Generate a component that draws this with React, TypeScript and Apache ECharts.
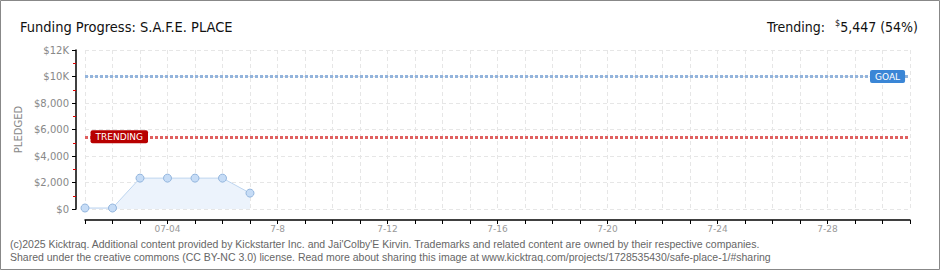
import React, { useEffect, useRef } from "react";
import * as echarts from "echarts";

const categories = [
  "07-01", "07-02", "07-03", "07-04", "7-5", "7-6", "7-7", "7-8", "7-9", "7-10",
  "7-11", "7-12", "7-13", "7-14", "7-15", "7-16", "7-17", "7-18", "7-19", "7-20",
  "7-21", "7-22", "7-23", "7-24", "7-25", "7-26", "7-27", "7-28", "7-29", "7-30", "7-31",
];
const pledged = [75, 75, 2330, 2330, 2330, 2330, 1200];
const goalValue = 10000;
const trendingValue = 5447;
const yTickLabels: Record<number, string> = {
  0: "$0", 2000: "$2,000", 4000: "$4,000", 6000: "$6,000", 8000: "$8,000", 10000: "$10K", 12000: "$12K",
};
const titleText = "Funding Progress: S.A.F.E. PLACE";
const trendingAmount = "5,447";
const trendingPct = "(54%)";
const footerLines = [
  "(c)2025 Kicktraq. Additional content provided by Kickstarter Inc. and Jai'Colby'E Kirvin. Trademarks and related content are owned by their respective companies.",
  "Shared under the creative commons (CC BY-NC 3.0) license. Read more about sharing this image at www.kicktraq.com/projects/1728535430/safe-place-1/#sharing",
];

export default function App() {
  const ref = useRef<HTMLDivElement>(null);
  useEffect(() => {
    if (!ref.current) return;
    const chart = echarts.init(ref.current, undefined, { renderer: "svg" });
    const font = "DejaVu Sans, Verdana, sans-serif";
    const tfont = "DejaVu Sans Condensed, Liberation Sans Narrow, Liberation Sans, sans-serif";
    chart.setOption({
      animation: false,
      backgroundColor: "#ffffff",
      title: [
        {
          text: titleText,
          left: 15,
          top: 14,
          textStyle: { fontSize: 14.5, fontWeight: "normal", color: "#111", fontFamily: tfont },
        },
        {
          text: "{a|Trending:}  {s|$}{b|" + trendingAmount + " " + trendingPct + "}",
          right: 17,
          top: 13,
          textStyle: {
            fontWeight: "normal",
            rich: {
              a: { fontSize: 14, fontWeight: "normal", color: "#111", fontFamily: tfont },
              s: { fontSize: 9, fontWeight: "normal", color: "#111", verticalAlign: "top", padding: [0, 0, 6, 0], fontFamily: tfont },
              b: { fontSize: 14, fontWeight: "normal", color: "#111", fontFamily: tfont },
            },
          },
        },
      ],
      grid: { left: 85, right: 30, top: 50, bottom: 61, containLabel: false },
      xAxis: {
        type: "category",
        data: categories,
        boundaryGap: false,
        offset: 11,
        axisLine: { show: true, onZero: false, lineStyle: { color: "#000", width: 1.5 } },
        axisTick: { show: true, interval: 0, length: 4, lineStyle: { color: "#000" } },
        axisLabel: {
          interval: (i: number) => i % 4 === 3,
          color: "#999",
          fontSize: 9,
          fontFamily: font,
          margin: 4,
        },
        splitLine: { show: true, interval: 0, lineStyle: { color: "#e6e6e6", type: [4, 3] } },
      },
      yAxis: {
        type: "value",
        min: 0,
        max: 12000,
        interval: 2000,
        offset: 9,
        name: "PLEDGED",
        nameLocation: "middle",
        nameRotate: 90,
        nameGap: 50,
        nameTextStyle: { color: "#888", fontSize: 10, fontFamily: font },
        axisLine: { show: true, onZero: false, lineStyle: { color: "#000", width: 1.5 } },
        axisTick: { show: true, length: 4, lineStyle: { color: "#000" } },
        minorTick: { show: true, splitNumber: 2, length: 3, lineStyle: { color: "#e00000" } },
        axisLabel: {
          formatter: (v: number) => yTickLabels[v] ?? String(v),
          color: "#888",
          fontSize: 10,
          fontFamily: font,
          margin: 7,
        },
        splitLine: { show: true, lineStyle: { color: "#e6e6e6", type: [4, 3] } },
      },
      series: [
        {
          type: "line",
          data: pledged,
          symbol: "circle",
          symbolSize: 8,
          lineStyle: { color: "#bcd4ef", width: 1 },
          itemStyle: { color: "#c6dcf6", borderColor: "#94b6de", borderWidth: 1 },
          areaStyle: { color: "#ecf3fc", opacity: 1 },
          markLine: {
            silent: true,
            symbol: ["none", "none"],
            data: [
              {
                yAxis: goalValue,
                lineStyle: { color: "#93b4dc", width: 3, type: [3, 2] },
                label: {
                  show: true,
                  position: "end",
                  distance: -40,
                  formatter: "GOAL",
                  color: "#fff",
                  backgroundColor: "#3a86d6",
                  padding: [2, 5, 2, 5],
                  borderRadius: 2,
                  fontSize: 9,
                  fontFamily: font,
                },
              },
              {
                yAxis: trendingValue,
                lineStyle: { color: "#e06060", width: 3, type: [3, 2] },
                label: {
                  show: true,
                  position: "start",
                  distance: -63,
                  formatter: "TRENDING",
                  color: "#fff",
                  backgroundColor: "#b80000",
                  padding: [2, 5, 2, 5],
                  borderRadius: 2,
                  fontSize: 9,
                  fontFamily: font,
                },
              },
            ],
          },
        },
      ],
      graphic: [
        {
          type: "rect",
          shape: { x: 0.5, y: 0.5, width: 939, height: 269 },
          style: { fill: "none", stroke: "#888", lineWidth: 1 },
          silent: true,
        },
        {
          type: "text",
          left: 10,
          top: 238,
          style: { text: footerLines[0], fill: "#666", fontSize: 10.5, fontFamily: "Liberation Sans, sans-serif" },
        },
        {
          type: "text",
          left: 10,
          top: 251,
          style: { text: footerLines[1], fill: "#666", fontSize: 10.5, fontFamily: "Liberation Sans, sans-serif" },
        },
      ],
    });
    return () => chart.dispose();
  }, []);
  return (
    <div style={{ position: "absolute", left: 0, top: 0, width: 940, height: 270 }}>
      <div ref={ref} style={{ width: 940, height: 270 }} />
    </div>
  );
}
